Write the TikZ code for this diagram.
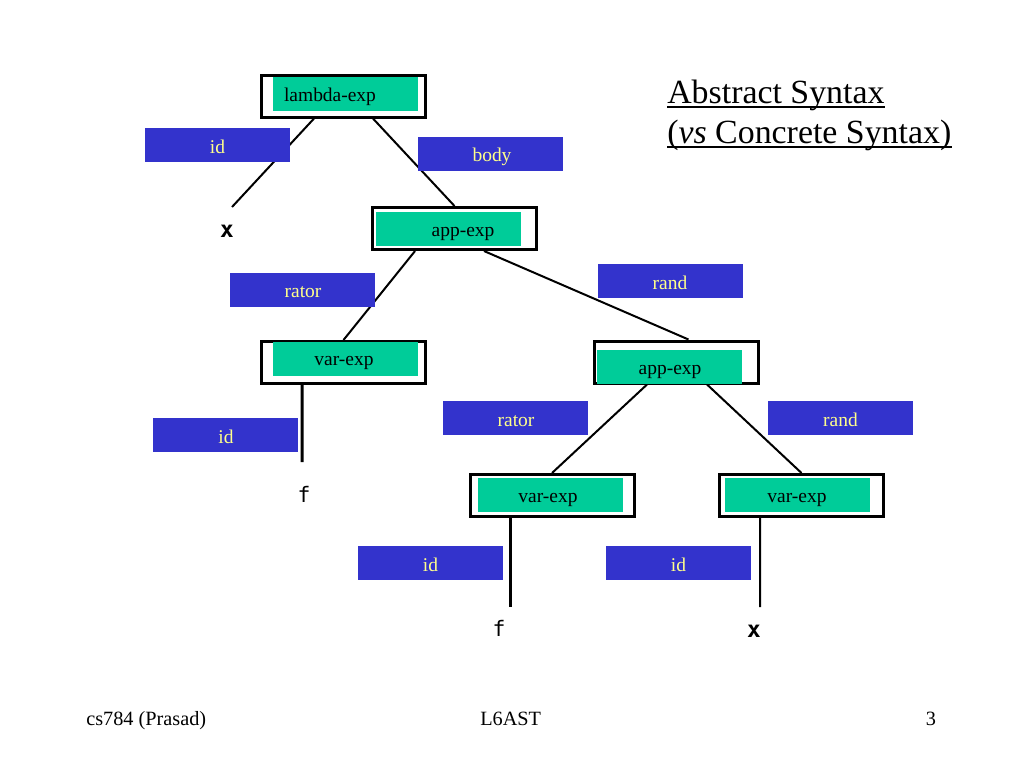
\documentclass[tikz,border=0pt]{standalone}
\usepackage{fontspec}
\setmainfont{Liberation Serif}
\newfontfamily\leaffont{DejaVu Sans Mono}
\definecolor{boxgreen}{RGB}{0,204,153}
\definecolor{boxblue}{RGB}{51,51,204}
\definecolor{labyellow}{RGB}{255,255,140}
\begin{document}
\begin{tikzpicture}[x=0.75pt,y=-0.75pt,
  outerbox/.style={draw=black,line width=2.25pt,fill=white,minimum width=123pt,minimum height=31.5pt,inner sep=0pt},
  greenbox/.style={fill=boxgreen,minimum width=108.75pt,minimum height=25.5pt,inner sep=0pt},
  bluebox/.style={fill=boxblue,minimum width=108.75pt,minimum height=25.5pt,inner sep=0pt},
  gtext/.style={anchor=base,inner sep=0pt,font=\fontsize{14.6pt}{17pt}\selectfont,text=black},
  btext/.style={anchor=base,inner sep=0pt,font=\fontsize{14.6pt}{17pt}\selectfont,text=labyellow},
  edgeline/.style={line width=1.5pt},
  stemline/.style={line width=2.25pt},
  leaf/.style={inner sep=0pt,font=\leaffont\fontsize{16pt}{18pt}\selectfont},
  boldleaf/.style={inner sep=0pt,font=\leaffont\bfseries\fontsize{17pt}{19pt}\selectfont},
  title/.style={anchor=base west,inner sep=0pt,font=\fontsize{25.4pt}{30pt}\selectfont},
  foot/.style={anchor=base west,inner sep=0pt,font=\fontsize{15.2pt}{18pt}\selectfont}]
\fill[white] (0,0) rectangle (1024,768);
\useasboundingbox (0,0) rectangle (1024,768);

% outer boxes
\node[outerbox] (lam) at (343.5,96) {};
\node[outerbox] (app1) at (454.5,228.5) {};
\node[outerbox] (var1) at (343.5,362.5) {};
\node[outerbox] (app2) at (676.5,362) {};
\node[outerbox] (var2) at (552,495.5) {};
\node[outerbox] (var3) at (801.5,495.5) {};

% free ends
\coordinate (xtop) at (232,207);
\coordinate (f1top) at (302,462);
\coordinate (f2top) at (510,607);
\coordinate (x2top) at (760,607);

% connectors
\draw[edgeline] ([xshift=-22.1pt]lam.south) -- (xtop);
\draw[edgeline] ([xshift=22.1pt]lam.south) -- (app1.north);
\draw[edgeline] ([xshift=-29.6pt]app1.south) -- (var1.north);
\draw[edgeline] ([xshift=22.1pt]app1.south) -- ([xshift=9pt]app2.north);
\draw[edgeline] ([xshift=-22.1pt]app2.south) -- (var2.north);
\draw[edgeline] ([xshift=22.9pt]app2.south) -- (var3.north);
\draw[stemline] ([xshift=-31.1pt]var1.south) -- (f1top);
\draw[stemline] ([xshift=-31.5pt]var2.south) -- (f2top);
\draw[edgeline] ([xshift=-31.1pt]var3.south) -- (x2top);

% green boxes
\node[greenbox] (g1) at (345.5,94) {};
\node[greenbox] (g2) at (448,229) {};
\node[greenbox] (g3) at (345.5,358.5) {};
\node[greenbox] (g4) at (669.5,366.5) {};
\node[greenbox] (g5) at (550.5,495) {};
\node[greenbox] (g6) at (797.5,495) {};
\node[gtext] (t1) at (330,101) {lambda-exp};
\node[gtext] (t2) at (463,236) {app-exp};
\node[gtext] (t3) at (344,365) {var-exp};
\node[gtext] (t4) at (670,374) {app-exp};
\node[gtext] (t5) at (548,502) {var-exp};
\node[gtext] (t6) at (797,502) {var-exp};

% blue label boxes
\node[bluebox] (b1) at (217.5,145) {};
\node[bluebox] (b2) at (490.5,153.5) {};
\node[bluebox] (b3) at (302.5,289.5) {};
\node[bluebox] (b4) at (670,281) {};
\node[bluebox] (b5) at (225.5,435) {};
\node[bluebox] (b6) at (515.5,418) {};
\node[bluebox] (b7) at (840.5,418) {};
\node[bluebox] (b8) at (430.5,563) {};
\node[bluebox] (b9) at (678.5,563) {};
\node[btext] (l1) at (217.5,153) {id};
\node[btext] (l2) at (492,161) {body};
\node[btext] (l3) at (303,297) {rator};
\node[btext] (l4) at (670,289) {rand};
\node[btext] (l5) at (226,443) {id};
\node[btext] (l6) at (516,426) {rator};
\node[btext] (l7) at (840.5,426) {rand};
\node[btext] (l8) at (430.5,571) {id};
\node[btext] (l9) at (678.5,571) {id};

% leaves
\node[boldleaf] (x1) at (227,231) {x};
\node[leaf] (f1) at (304,494) {f};
\node[leaf] (f2) at (499,628) {f};
\node[boldleaf] (x2) at (754,631) {x};

% title
\node[title] (h1) at (667,103) {Abstract Syntax};
\node[title] (h2) at (667,143) {(\textit{vs} Concrete Syntax)};
\draw[line width=1.5pt] ([yshift=-3pt]h1.base west) -- ([yshift=-3pt]h1.base east);
\draw[line width=1.5pt] ([yshift=-3pt]h2.base west) -- ([yshift=-3pt]h2.base east);

% footer
\node[foot] (ft1) at (86,725) {cs784 (Prasad)};
\node[foot] (ft2) at (480,725) {L6AST};
\node[anchor=base,inner sep=0pt,font=\fontsize{15.2pt}{18pt}\selectfont] (ft3) at (931,725) {3};
\end{tikzpicture}
\end{document}
